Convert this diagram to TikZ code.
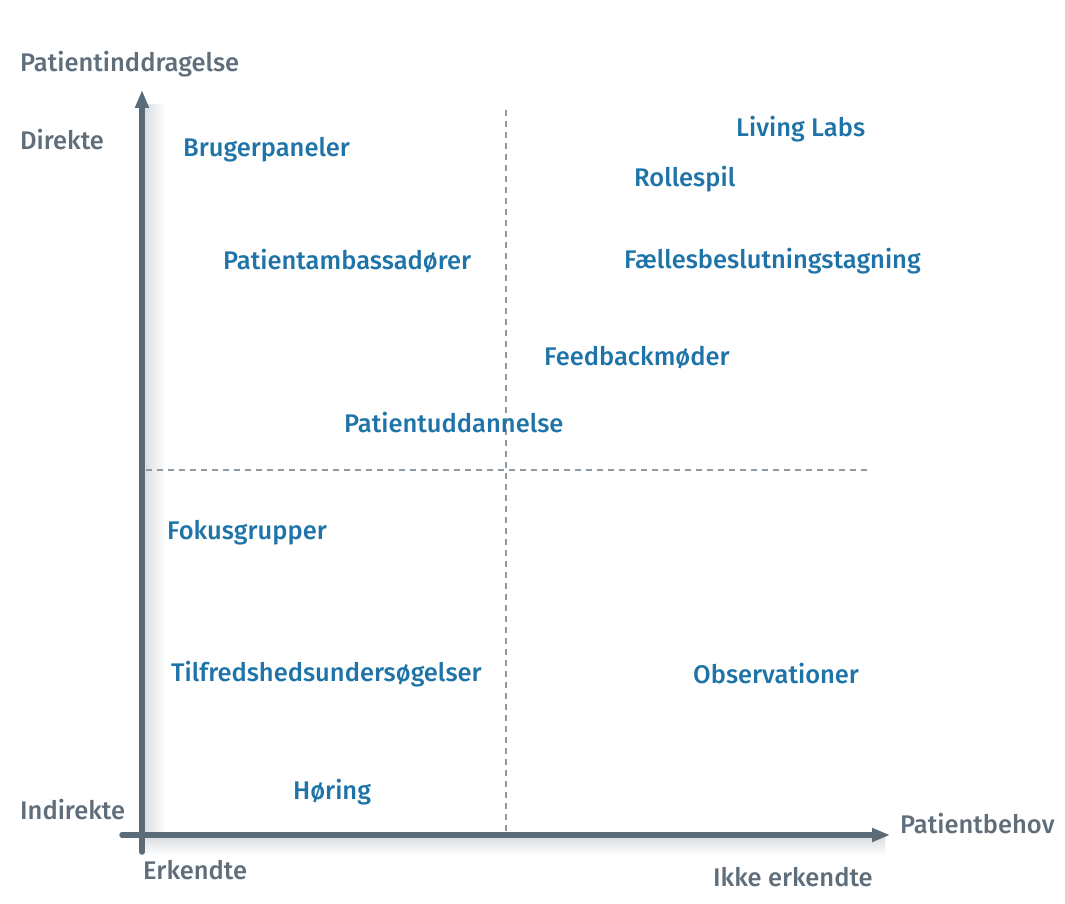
\documentclass[tikz,border=0pt]{standalone}
\usepackage{fontspec}
\setmainfont{Fira Sans}[UprightFont={* Medium}]
\usetikzlibrary{arrows.meta}
\definecolor{axisgray}{HTML}{5B6B78}
\definecolor{labgray}{HTML}{5F6E7A}
\definecolor{itemblue}{HTML}{1E74A8}
\definecolor{dashgray}{HTML}{8F9AA3}
\definecolor{shadowgray}{HTML}{DCDFE2}
\tikzset{
  axis/.style={line width=5.5pt, draw=axisgray, line cap=round,
    -{Triangle[length=18pt,width=14pt,angle'=40]}},
  guide/.style={draw=dashgray, line width=1.2pt, dash pattern=on 6pt off 5pt},
  axlabel/.style={anchor=west, inner sep=0pt, text=labgray, font=\fontsize{25.5}{28}\selectfont},
  item/.style={anchor=west, inner sep=0pt, text=itemblue, font=\fontsize{25.5}{28}\selectfont},
}
\begin{document}
\begin{tikzpicture}[x=1pt,y=-1pt]
  \useasboundingbox[fill=white] (0,0) rectangle (1065,904);
  % soft shadows beside the axes
  \shade[left color=shadowgray, right color=white] (145,105) rectangle (166,850);
  \shade[top color=shadowgray, bottom color=white] (145,837) rectangle (885,856);
  % quadrant guides
  \coordinate (vtop) at (506,110);
  \coordinate (vbot) at (506,833);
  \coordinate (hl) at (146,470);
  \coordinate (hr) at (870,470);
  \draw[guide] (vtop) -- (vbot);
  \draw[guide] (hl) -- (hr);
  % axes
  \coordinate (origin) at (142,852);
  \coordinate (ytip) at (142,90);
  \coordinate (xstart) at (122,835);
  \coordinate (xtip) at (890,835);
  \draw[axis] (origin) -- (ytip);
  \draw[axis] (xstart) -- (xtip);
  % axis labels
  \node[axlabel] (ytitle) at (20,64) {Patientinddragelse};
  \node[axlabel] (direkte) at (20,140) {Direkte};
  \node[axlabel] (indirekte) at (20,810) {Indirekte};
  \node[axlabel] (erkendte) at (143,870) {Erkendte};
  \node[axlabel] (ikke) at (713,877) {Ikke erkendte};
  \node[axlabel] (xtitle) at (900,824) {Patientbehov};
  % methods
  \node[item] (bruger) at (183,150) {Brugerpaneler};
  \node[item] (living) at (736,129) {Living Labs};
  \node[item] (rolle) at (634,179) {Rollespil};
  \node[item] (ambassador) at (223,261) {Patientambassadører};
  \node[item] (faelles) at (624,261) {Fællesbeslutningstagning};
  \node[item] (feedback) at (544,358) {Feedbackmøder};
  \node[item] (uddannelse) at (344,423) {Patientuddannelse};
  \node[item] (fokus) at (167,533) {Fokusgrupper};
  \node[item] (tilfreds) at (171,674) {Tilfredshedsundersøgelser};
  \node[item] (observ) at (693,674) {Observationer};
  \node[item] (horing) at (293,792) {Høring};
\end{tikzpicture}
\end{document}
